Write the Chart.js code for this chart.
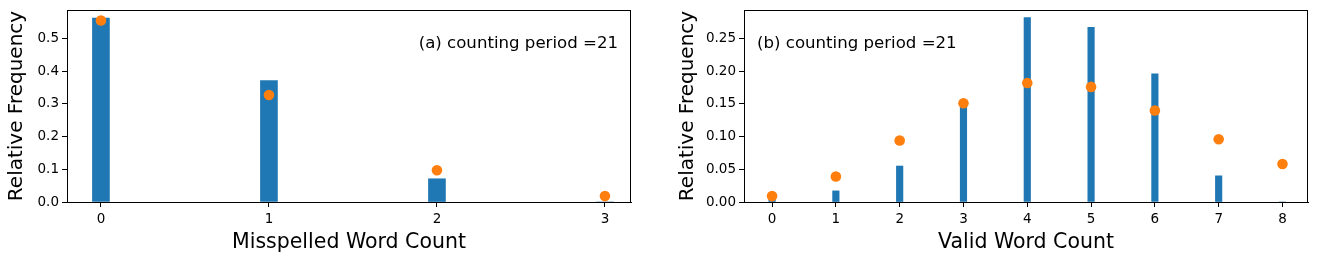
<!DOCTYPE html>
<html>
<head>
<meta charset="utf-8">
<script src="https://cdn.jsdelivr.net/npm/chart.js@4.4.1/dist/chart.umd.min.js"></script>
<style>
  html, body { margin: 0; padding: 0; background: #fff; }
  #wrap { position: relative; width: 1317px; height: 261px; overflow: hidden; }
  canvas { position: absolute; top: 0; }
  #chartA { left: 0; }
  #chartB { left: 660px; }
</style>
</head>
<body>
<div id="wrap">
  <canvas id="chartA" width="660" height="261"></canvas>
  <canvas id="chartB" width="657" height="261"></canvas>
</div>
<script>
// ---- data ----
const misspelledCounts = [0, 1, 2, 3];
const misspelledObserved = [0.562, 0.371, 0.071, 0];
const misspelledFitted = [0.555, 0.327, 0.097, 0.018];

const validCounts = [0, 1, 2, 3, 4, 5, 6, 7, 8];
const validObserved = [0.005, 0.017, 0.055, 0.146, 0.282, 0.267, 0.196, 0.040, 0];
const validFitted = [0.009, 0.039, 0.094, 0.151, 0.182, 0.176, 0.140, 0.096, 0.058];

const BAR = '#1f77b4';
const DOT = '#ff7f0e';
const FONT = 'DejaVu Sans';

// full box round the plot area + the corner annotation
const framePlugin = {
  id: 'frame',
  afterDraw(chart) {
    const { ctx, chartArea: a } = chart;
    const o = chart.options.plugins.frame;
    ctx.save();
    ctx.strokeStyle = '#000';
    ctx.lineWidth = 1;
    ctx.strokeRect(Math.round(a.left) + 0.5, Math.round(a.top) + 0.5,
      Math.round(a.right - a.left) - 1, Math.round(a.bottom - a.top));
    ctx.fillStyle = '#000';
    ctx.font = `16.6px "${FONT}"`;
    ctx.textBaseline = 'middle';
    if (o.align === 'right') {
      ctx.textAlign = 'right';
      ctx.fillText(o.text, a.right - 13, a.top + 34);
    } else {
      ctx.textAlign = 'left';
      ctx.fillText(o.text, a.left + 13, a.top + 34);
    }
    ctx.restore();
  },
};

function makeChart(id, cfg) {
  const pts = (xs, ys) => xs.map((x, i) => ({ x, y: ys[i] }));
  return new Chart(document.getElementById(id), {
    type: 'bar',
    data: {
      datasets: [
        { type: 'scatter', data: pts(cfg.xs, cfg.fitted), backgroundColor: DOT, borderColor: DOT,
          pointRadius: 5.3, pointHoverRadius: 5.3, borderWidth: 0, order: 0 },
        { type: 'bar', data: pts(cfg.xs, cfg.observed), backgroundColor: BAR,
          barThickness: cfg.barPx, borderWidth: 0, order: 1 },
      ],
    },
    options: {
      responsive: false,
      animation: false,
      devicePixelRatio: 1,
      layout: { padding: { top: 10, right: cfg.padRight, left: 0, bottom: 0 } },
      plugins: {
        legend: { display: false },
        tooltip: { enabled: false },
        frame: { text: cfg.note, align: cfg.noteAlign },
      },
      scales: {
        x: {
          type: 'linear', offset: false, min: cfg.xMin, max: cfg.xMax,
          afterFit: (s) => { s.height = 59; s.paddingLeft = 0; s.paddingRight = 0; },
          ticks: { stepSize: 1, includeBounds: false, color: '#000', padding: 4,
            font: { family: FONT, size: 13.5 }, maxRotation: 0 },
          grid: { display: true, drawOnChartArea: false, drawTicks: true, tickLength: 5, color: '#000', offset: false },
          border: { display: true, color: '#000', width: 1 },
          title: { display: true, text: cfg.xTitle, color: '#000', font: { family: FONT, size: 20.5 },
            padding: { top: 0, bottom: 6 } },
        },
        y: {
          min: 0, max: cfg.yMax,
          afterFit: (s) => { s.width = cfg.yWidth; s.paddingTop = 0; s.paddingBottom = 0; },
          ticks: { stepSize: cfg.yStep, includeBounds: false, color: '#000', padding: 3,
            font: { family: FONT, size: 13.5 }, callback: (v) => v.toFixed(cfg.yDigits) },
          grid: { display: true, drawOnChartArea: false, drawTicks: true, tickLength: 5, color: '#000' },
          border: { display: true, color: '#000', width: 1 },
          title: { display: true, text: 'Relative Frequency', color: '#000', font: { family: FONT, size: 20 },
            padding: { top: cfg.yTitlePad, bottom: 0 } },
        },
      },
    },
    plugins: [framePlugin],
  });
}

makeChart('chartA', {
  xs: misspelledCounts, observed: misspelledObserved, fitted: misspelledFitted,
  xMin: -0.202, xMax: 3.155, yMax: 0.587, yStep: 0.1, yDigits: 1,
  yWidth: 67, padRight: 29, barPx: 17, yTitlePad: 5,
  xTitle: 'Misspelled Word Count', note: '(a) counting period =21', noteAlign: 'right',
});

makeChart('chartB', {
  xs: validCounts, observed: validObserved, fitted: validFitted,
  xMin: -0.44, xMax: 8.40, yMax: 0.2936, yStep: 0.05, yDigits: 2,
  yWidth: 84, padRight: 9, barPx: 6.5, yTitlePad: 16,
  xTitle: 'Valid Word Count', note: '(b) counting period =21', noteAlign: 'left',
});
</script>
</body>
</html>
